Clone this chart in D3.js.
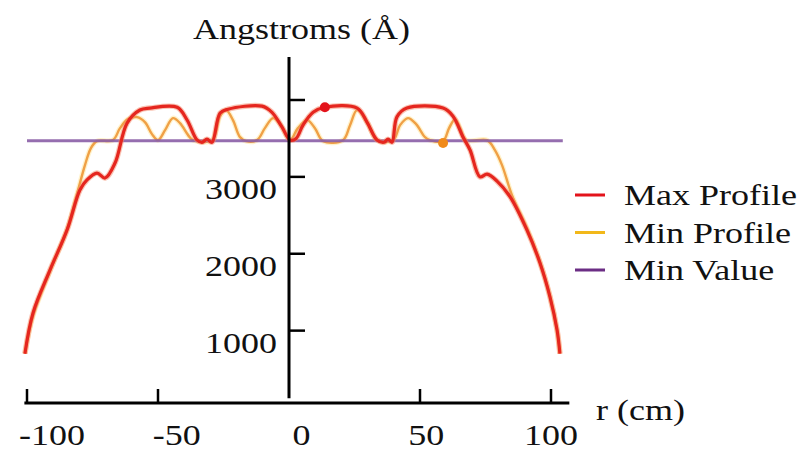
<!DOCTYPE html>
<html><head><meta charset="utf-8">
<script src="https://cdn.jsdelivr.net/npm/d3@7"></script>
<style>
body{margin:0;background:#fff}
svg{display:block}
text{font-family:"Liberation Serif","Times New Roman",serif;font-size:30px;fill:#111}
</style>
</head><body><svg width="805" height="451"></svg>
<script>
// ---- data ----
const maxR = [-100.8,-97.7,-91.2,-84.7,-79.8,-77.1,-73.3,-70.2,-66.4,-61.8,-56.9,-53.1,-42.7,-38.9,-35.1,-33.2,-31.3,-29.4,-26.3,-23.3,-10.3,-6.5,-2.7,0.4,2.7,5.3,9.2,13.7,26.0,29.8,33.6,36.3,37.8,39.3,41.2,45.0,58.8,62.6,66.4,69.1,72.9,75.6,79.4,84.4,90.8,95.8,99.6,102.3,103.4];
const maxV = [700,1230,1790,2310,2830,2960,3050,2985,3180,3700,3870,3895,3905,3740,3480,3450,3490,3450,3830,3880,3920,3840,3650,3480,3500,3670,3840,3905,3895,3710,3480,3450,3490,3450,3780,3895,3895,3790,3520,3350,3000,3035,2945,2740,2310,1880,1440,1010,700];
const minR = [-100.8,-97.7,-91.2,-84.7,-80.5,-77.9,-75.6,-73.3,-67.2,-64.5,-61.5,-58.0,-55.0,-52.3,-50.0,-47.3,-44.3,-41.6,-38.5,-36.6,-29.4,-26.3,-24.0,-21.4,-18.7,-16.4,-12.2,-9.2,-6.1,-3.4,0.4,3.4,6.9,9.9,13.0,20.6,23.3,26.0,29.8,33.6,39.7,42.4,45.4,48.5,51.9,53.8,58.8,61.1,63.4,65.3,67.6,75.6,78.6,81.3,85.1,90.8,95.8,99.6,102.3,103.4];
const minV = [700,1190,1775,2320,2830,3150,3375,3465,3478,3634,3751,3777,3712,3556,3478,3608,3764,3699,3543,3478,3478,3790,3868,3738,3517,3465,3478,3634,3764,3686,3478,3634,3738,3634,3465,3478,3673,3868,3712,3478,3478,3673,3764,3686,3517,3478,3465,3634,3751,3634,3478,3478,3348,3153,2763,2334,1892,1450,1008,700];
const minValue = 3470;
const minValueRange = [-100, 104.5];
const maxMarker = [13.7, 3905];
const minMarker = [58.8, 3440];
const xTicks = [-100, -50, 50, 100];
const xTickLabels = [-100, -50, 0, 50, 100];
const yTicks = [1000, 2000, 3000, 4000];
const yTickLabels = [1000, 2000, 3000];
const xAxisExtent = [-101, 107];
const yAxisExtent = [120, 4560];
const legendLabels = ["Max Profile", "Min Profile", "Min Value"];
const legendColors = ["#e3131b", "#f2b81a", "#6b2d84"];
const yTitle = "Angstroms (Å)";
const xTitle = "r (cm)";

// ---- drawing ----
const svg = d3.select("svg");
const x = d3.scaleLinear().domain([-100, 100]).range([27, 551]);
const xLab = d3.scaleLinear().domain([-100, 100]).range([52, 551]);
const y = d3.scaleLinear().domain([0, 4000]).range([407.5, 100]);

function sText(g, px, py, str, anchor) {
  return g.append("text")
    .attr("transform", `translate(${px},${py}) scale(1.2,1)`)
    .attr("text-anchor", anchor).text(str);
}

const line = d3.line().x(d => x(d[0])).y(d => y(d[1])).curve(d3.curveCatmullRom.alpha(0.5));
const maxData = maxR.map((r, i) => [r, maxV[i]]);
const minData = minR.map((r, i) => [r, minV[i]]);

// orange halo + line
svg.append("path").attr("d", line(minData)).attr("fill", "none")
  .attr("stroke", "#ffe9a8").attr("stroke-width", 5).attr("stroke-opacity", 0.6);
svg.append("path").attr("d", line(minData)).attr("fill", "none")
  .attr("stroke", "#f0a046").attr("stroke-width", 2.4);

// min value line
svg.append("line")
  .attr("x1", x(minValueRange[0])).attr("x2", x(minValueRange[1]))
  .attr("y1", y(minValue)).attr("y2", y(minValue))
  .attr("stroke", "#8a5ea6").attr("stroke-width", 3).attr("stroke-opacity", 0.9);

// red line
svg.append("path").attr("d", line(maxData)).attr("fill", "none")
  .attr("stroke", "#f58a6a").attr("stroke-width", 5.5).attr("stroke-opacity", 0.5);
svg.append("path").attr("d", line(maxData)).attr("fill", "none")
  .attr("stroke", "#e5261f").attr("stroke-width", 3.2);

// markers
svg.append("circle").attr("cx", x(maxMarker[0])).attr("cy", y(maxMarker[1])).attr("r", 5).attr("fill", "#e3131b");
svg.append("circle").attr("cx", x(minMarker[0])).attr("cy", y(minMarker[1])).attr("r", 5).attr("fill", "#f08a1a");

// y axis
svg.append("line").attr("x1", x(0)).attr("x2", x(0))
  .attr("y1", y(yAxisExtent[1])).attr("y2", y(yAxisExtent[0]))
  .attr("stroke", "#000").attr("stroke-width", 3);
svg.selectAll(".yt").data(yTicks).join("line").attr("class", "yt")
  .attr("x1", x(0)).attr("x2", x(0) + 16)
  .attr("y1", d => y(d)).attr("y2", d => y(d))
  .attr("stroke", "#000").attr("stroke-width", 2.5);
yTickLabels.forEach(v => sText(svg, x(0) - 12, y(v) + 22, String(v), "end"));

// x axis
svg.append("line").attr("x1", x(xAxisExtent[0])).attr("x2", x(xAxisExtent[1]))
  .attr("y1", 403).attr("y2", 403).attr("stroke", "#000").attr("stroke-width", 3);
svg.selectAll(".xt").data(xTicks).join("line").attr("class", "xt")
  .attr("x1", d => x(d)).attr("x2", d => x(d))
  .attr("y1", 403).attr("y2", 389)
  .attr("stroke", "#000").attr("stroke-width", 2.5);
xTickLabels.forEach(v => sText(svg, xLab(v), 445, String(v), "middle"));

// titles
sText(svg, 193, 39, yTitle, "start");
sText(svg, 596, 420, xTitle, "start");

// legend
const lg = svg.append("g");
legendLabels.forEach((lab, i) => {
  const ly = 195 + i * 37.5;
  lg.append("line").attr("x1", 575).attr("x2", 605).attr("y1", ly).attr("y2", ly)
    .attr("stroke", legendColors[i]).attr("stroke-width", 3);
  sText(lg, 624, ly + 10, lab, "start");
});
</script>
</body></html>
